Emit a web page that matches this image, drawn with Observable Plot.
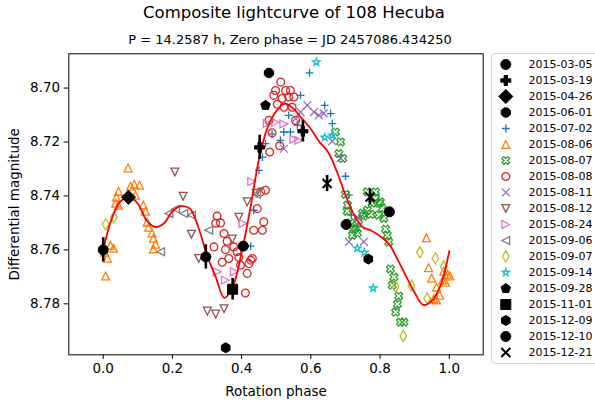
<!DOCTYPE html>
<html>
<head>
<meta charset="utf-8">
<script src="https://cdn.jsdelivr.net/npm/d3@7"></script>
<script src="https://cdn.jsdelivr.net/npm/@observablehq/plot@0.6"></script>
<style>
  body { margin: 0; background: #fff; }
  #wrap { position: relative; width: 595px; height: 407px; overflow: hidden; font-family: "DejaVu Sans", sans-serif; color: #000; }
  #title { position: absolute; left: 0; width: 588px; top: 3px; text-align: center; font-size: 16.5px; white-space: nowrap; }
  #subtitle { position: absolute; left: 68px; width: 444px; top: 31.5px; text-align: center; font-size: 13px; white-space: nowrap; }
  #main { position: absolute; left: 0; top: 0; }
  #legbox { position: absolute; left: 491px; top: 53px; width: 120px; height: 311px; box-sizing: border-box; border: 1px solid #d4d4d4; border-radius: 4px; background: #fff; }
  #legend { position: absolute; left: 491px; top: 53px; }
</style>
</head>
<body>
<div id="wrap">
  <div id="title">Composite lightcurve of 108 Hecuba</div>
  <div id="subtitle">P = 14.2587 h, Zero phase = JD 2457086.434250</div>
  <div id="main"></div>
  <div id="legbox"></div>
  <div id="legend"></div>
</div>
<script>
// ---------- data: [phase, magnitude, (error)] ----------
const xTicks = [0.0, 0.2, 0.4, 0.6, 0.8, 1.0];
const yTicks = [8.70, 8.72, 8.74, 8.76, 8.78];

const s0305 = [[0.000, 8.7600, 0.0045]];
const s0319 = [[0.452, 8.7220, 0.0045], [0.577, 8.7160, 0.0040]];
const s0426 = [[0.073, 8.7405, 0]];
const s0601 = [[0.479, 8.6944, 0]];
const s0702 = [[0.596,8.6944],[0.570,8.7027],[0.536,8.7101],[0.561,8.7138],[0.640,8.7064],[0.657,8.7095],[0.662,8.7132],[0.522,8.7163],[0.541,8.7163],[0.488,8.7171],[0.512,8.7194],[0.469,8.7206],[0.460,8.7256],[0.450,8.7305],[0.435,8.7453],[0.426,8.7586],[0.700,8.7327],[0.710,8.7397],[0.717,8.7471],[0.734,8.7515]];
const s0806 = [[0.072,8.7296],[0.044,8.7383],[0.038,8.7405],[0.036,8.7427],[0.044,8.7434],[0.079,8.7364],[0.090,8.7357],[0.105,8.7360],[0.093,8.7397],[0.116,8.7434],[0.122,8.7457],[0.127,8.7497],[0.131,8.7516],[0.141,8.7538],[0.145,8.7557],[0.151,8.7579],[0.145,8.7597],[0.021,8.7583],[0.030,8.7594],[0.004,8.7609],[0.012,8.7631],[0.007,8.7697],
  [0.934,8.7555],[0.940,8.7666],[0.949,8.7705],[0.984,8.7679],[0.995,8.7690],[1.002,8.7697],[0.981,8.7712],[0.989,8.7720],[0.963,8.7738],[0.972,8.7768],[0.955,8.7781],[0.963,8.7786]];
const s0807 = [[0.671,8.7163],[0.686,8.7200],[0.681,8.7243],[0.692,8.7261],[0.700,8.7394],[0.706,8.7434],[0.705,8.7457],[0.715,8.7501],[0.729,8.7520],[0.738,8.7490],[0.749,8.7464],[0.763,8.7453],[0.777,8.7427],[0.787,8.7409],[0.763,8.7385],[0.787,8.7385],[0.797,8.7427],[0.806,8.7446],[0.811,8.7483],[0.816,8.7523],[0.821,8.7546],[0.825,8.7571],[0.830,8.7671],[0.840,8.7701],[0.835,8.7731],[0.854,8.7771],[0.850,8.7801],[0.845,8.7831],[0.859,8.7868],[0.869,8.7868],[0.723,8.7523],[0.720,8.7546],[0.734,8.7538],[0.801,8.7422],[0.796,8.7471],[0.752,8.7475],[0.773,8.7468]];
const s0808 = [[0.513,8.6978],[0.498,8.7009],[0.527,8.7009],[0.541,8.7009],[0.493,8.7027],[0.517,8.7039],[0.536,8.7033],[0.551,8.7033],[0.503,8.7060],[0.522,8.7071],[0.546,8.7071],[0.479,8.7120],[0.556,8.7120],[0.488,8.7166],[0.510,8.7214],[0.481,8.7237],
  [0.469,8.7379],[0.455,8.7385],[0.445,8.7447],[0.464,8.7496],[0.435,8.7527],[0.460,8.7527],
  [0.329,8.7475],[0.325,8.7501],[0.339,8.7500],[0.349,8.7539],[0.320,8.7589],[0.358,8.7568],[0.353,8.7599],[0.377,8.7589],[0.363,8.7632],[0.344,8.7646],[0.387,8.7607],[0.392,8.7628],[0.426,8.7638],[0.431,8.7632],[0.421,8.7651],[0.416,8.7687],[0.411,8.7760],[0.397,8.7657]];
const s0811 = [[0.590,8.7064],[0.570,8.7089],[0.609,8.7089],[0.623,8.7101],[0.637,8.7094],[0.556,8.7113],[0.522,8.7225],[0.662,8.7197],[0.686,8.7260],[0.734,8.7479],[0.710,8.7570],[0.753,8.7570]];
const s0812 = [[0.207,8.7311],[0.231,8.7401],[0.255,8.7542],[0.276,8.7632],[0.301,8.7827],[0.325,8.7838],[0.349,8.7818],[0.392,8.7479],[0.373,8.7560],[0.416,8.7422],[0.442,8.7390]];
const s0824 = [[0.474,8.7131],[0.498,8.7127],[0.522,8.7133],[0.551,8.7190],[0.565,8.7194],[0.429,8.7347],[0.404,8.7502],[0.329,8.7681],[0.353,8.7712],[0.379,8.7681]];
const s0906 = [[0.190,8.7465],[0.209,8.7449],[0.233,8.7465],[0.255,8.7471],[0.166,8.7607],[0.305,8.7527],[0.443,8.7394]];
const s0907 = [[0.007,8.7505],[0.031,8.7479],[0.915,8.7609],[0.960,8.7631],[0.984,8.7662],[0.845,8.7737],[0.891,8.7733],[0.936,8.7780],[0.867,8.7919]];
const s0914 = [[0.616,8.6904],[0.640,8.7183],[0.662,8.7175],[0.734,8.7594],[0.755,8.7610],[0.780,8.7742]];
const s0928 = [[0.469, 8.7064, 0]];
const s1101 = [[0.374, 8.7746, 0.0040]];
const s1209 = [[0.354, 8.7963, 0], [0.766, 8.7634, 0]];
const s1210 = [[0.2965, 8.7626, 0.0045], [0.405, 8.7586, 0], [0.702, 8.7506, 0], [0.827, 8.7459, 0]];
const s1221 = [[0.647, 8.7354, 0.0030], [0.771, 8.7404, 0.0030]];

// Fourier fit curve
const fitPhase = [0.000,0.025,0.050,0.075,0.100,0.125,0.150,0.175,0.200,0.225,0.250,0.275,0.300,0.325,0.350,0.375,0.400,0.425,0.450,0.475,0.500,0.525,0.550,0.575,0.600,0.625,0.650,0.675,0.700,0.725,0.750,0.775,0.800,0.825,0.850,0.875,0.900,0.925,0.950,0.975,1.000];
const fitMag = [8.7600,8.7483,8.7420,8.7405,8.7428,8.7490,8.7515,8.7502,8.7457,8.7438,8.7446,8.7516,8.7620,8.7700,8.7778,8.7734,8.7610,8.7447,8.7265,8.7146,8.7086,8.7058,8.7077,8.7114,8.7152,8.7200,8.7238,8.7309,8.7397,8.7470,8.7516,8.7529,8.7549,8.7577,8.7634,8.7697,8.7759,8.7804,8.7788,8.7731,8.7605];

// ---------- marker shapes (matplotlib-like) ----------
const mk = (fn) => ({draw(ctx, size) { fn(ctx, Math.sqrt(size / Math.PI)); }});
const polyPath = (pts) => (ctx, h) => { pts.forEach(([x, y], i) => i ? ctx.lineTo(x * h, y * h) : ctx.moveTo(x * h, y * h)); ctx.closePath(); };
const regular = (n, rot, inner) => {
  const pts = [];
  const m = inner ? 2 * n : n;
  for (let k = 0; k < m; k++) {
    const a = -Math.PI / 2 + rot + k * 2 * Math.PI / m;
    const rr = inner && k % 2 ? inner : 1;
    pts.push([rr * Math.cos(a), rr * Math.sin(a)]);
  }
  return pts;
};
const R2 = Math.SQRT2;
const SYM = {
  o: mk((c, h) => { c.moveTo(h, 0); c.arc(0, 0, h, 0, 2 * Math.PI); }),
  "^": mk(polyPath([[0, -1], [-1, 1], [1, 1]])),
  v: mk(polyPath([[0, 1], [-1, -1], [1, -1]])),
  ">": mk(polyPath([[1, 0], [-1, -1], [-1, 1]])),
  "<": mk(polyPath([[-1, 0], [1, -1], [1, 1]])),
  s: mk(polyPath([[-1, -1], [1, -1], [1, 1], [-1, 1]])),
  D: mk(polyPath([[0, -R2], [R2, 0], [0, R2], [-R2, 0]])),
  d: mk(polyPath([[0, -R2], [0.6 * R2, 0], [0, R2], [-0.6 * R2, 0]])),
  p: mk(polyPath(regular(5, 0))),
  h: mk(polyPath(regular(6, 0))),
  "8": mk(polyPath(regular(8, Math.PI / 8))),
  "*": mk(polyPath(regular(5, 0, 0.381966))),
  P: mk(polyPath([[-1/3,-1],[1/3,-1],[1/3,-1/3],[1,-1/3],[1,1/3],[1/3,1/3],[1/3,1],[-1/3,1],[-1/3,1/3],[-1,1/3],[-1,-1/3],[-1/3,-1/3]])),
  X: mk(polyPath([[-0.5,-1],[0,-0.5],[0.5,-1],[1,-0.5],[0.5,0],[1,0.5],[0.5,1],[0,0.5],[-0.5,1],[-1,0.5],[-0.5,0],[-1,-0.5]])),
  "+": mk((c, h) => { c.moveTo(-h, 0); c.lineTo(h, 0); c.moveTo(0, -h); c.lineTo(0, h); }),
  x: mk((c, h) => { c.moveTo(-h, -h); c.lineTo(h, h); c.moveTo(-h, h); c.lineTo(h, -h); })
};

// ---------- series styling ----------
const series = [
  {label: "2015-03-05", data: s0305, sym: "o", color: "#000000", fill: true, r: 5, sw: 1, black: true},
  {label: "2015-03-19", data: s0319, sym: "P", color: "#000000", fill: true, r: 5, sw: 1, black: true},
  {label: "2015-04-26", data: s0426, sym: "D", color: "#000000", fill: true, r: 5, sw: 1, black: true},
  {label: "2015-06-01", data: s0601, sym: "8", color: "#000000", fill: true, r: 5, sw: 1, black: true},
  {label: "2015-07-02", data: s0702, sym: "+", color: "#1f77b4", fill: false, r: 3.9, sw: 1.3},
  {label: "2015-08-06", data: s0806, sym: "^", color: "#ff7f0e", fill: false, r: 3.9, sw: 1.3},
  {label: "2015-08-07", data: s0807, sym: "X", color: "#2ca02c", fill: false, r: 3.9, sw: 1.3},
  {label: "2015-08-08", data: s0808, sym: "o", color: "#d62728", fill: false, r: 3.9, sw: 1.3},
  {label: "2015-08-11", data: s0811, sym: "x", color: "#9467bd", fill: false, r: 3.9, sw: 1.3},
  {label: "2015-08-12", data: s0812, sym: "v", color: "#8c564b", fill: false, r: 3.9, sw: 1.3},
  {label: "2015-08-24", data: s0824, sym: ">", color: "#e377c2", fill: false, r: 3.9, sw: 1.3},
  {label: "2015-09-06", data: s0906, sym: "<", color: "#7f7f7f", fill: false, r: 3.9, sw: 1.3},
  {label: "2015-09-07", data: s0907, sym: "d", color: "#bcbd22", fill: false, r: 3.9, sw: 1.3},
  {label: "2015-09-14", data: s0914, sym: "*", color: "#17becf", fill: false, r: 3.9, sw: 1.3},
  {label: "2015-09-28", data: s0928, sym: "p", color: "#000000", fill: true, r: 5, sw: 1, black: true},
  {label: "2015-11-01", data: s1101, sym: "s", color: "#000000", fill: true, r: 5, sw: 1, black: true},
  {label: "2015-12-09", data: s1209, sym: "h", color: "#000000", fill: true, r: 5, sw: 1, black: true},
  {label: "2015-12-10", data: s1210, sym: "o", color: "#000000", fill: true, r: 5, sw: 1, black: true},
  {label: "2015-12-21", data: s1221, sym: "x", color: "#000000", fill: false, r: 4.5, sw: 2, black: true}
];

const toRows = (arr) => arr.map(([phase, mag, err]) => ({phase, mag, err: err || 0}));
const fit = fitPhase.map((p, i) => ({phase: p, mag: fitMag[i]}));

const dotMark = (s, data, x, y) => Plot.dot(data, {
  x, y, symbol: SYM[s.sym], r: s.r,
  fill: s.fill ? s.color : "none", stroke: s.color, strokeWidth: s.sw
});

const colored = series.filter(s => !s.black).map(s => dotMark(s, toRows(s.data), "phase", "mag"));
const blacks = series.filter(s => s.black);
const errRows = blacks.flatMap(s => toRows(s.data)).filter(d => d.err > 0);

const main = Plot.plot({
  width: 595, height: 407,
  marginLeft: 68.3, marginRight: 112.3, marginTop: 53.3, marginBottom: 52.7,
  x: {domain: [-0.0994, 1.098]},
  y: {domain: [8.6873, 8.7989], reverse: true},
  style: {fontFamily: "DejaVu Sans, sans-serif", fontSize: "13.5px", color: "#000", background: "transparent"},
  marks: [
    ...colored,
    Plot.line(fit, {x: "phase", y: "mag", stroke: "#ff0000", strokeWidth: 1.8, curve: "catmull-rom"}),
    Plot.ruleX(errRows, {x: "phase", y1: d => d.mag - d.err, y2: d => d.mag + d.err, stroke: "#000", strokeWidth: 2.6}),
    ...blacks.map(s => dotMark(s, toRows(s.data), "phase", "mag")),
    Plot.frame({stroke: "#000", strokeWidth: 1}),
    Plot.axisX({ticks: xTicks, tickFormat: d3.format(".1f"), tickSize: 4.7, tickPadding: 4, fontSize: 13.5,
      label: "Rotation phase", labelAnchor: "center", labelOffset: 41, labelArrow: "none"}),
    Plot.axisY({ticks: yTicks, tickFormat: d3.format(".2f"), tickSize: 4.7, tickPadding: 4, fontSize: 13.5,
      label: "Differential magnitude", labelAnchor: "center", labelOffset: 59, labelArrow: "none"})
  ]
});
document.getElementById("main").appendChild(main);

// ---------- legend ----------
const labels = series.map(s => s.label);
const legend = Plot.plot({
  width: 104, height: 311,
  marginLeft: 14.3, marginRight: 0, marginTop: 8.7, marginBottom: 8.9,
  x: {domain: [0, 1], axis: null},
  y: {domain: labels, type: "point", padding: 0, axis: null},
  style: {fontFamily: "DejaVu Sans, sans-serif", fontSize: "11px", color: "#000", background: "transparent"},
  marks: [
    ...series.map(s => dotMark(s, [{k: 0, label: s.label}], "k", "label")),
    Plot.text(labels, {x: () => 0, y: d => d, text: d => d, dx: 22.7, textAnchor: "start", fontSize: 11, fill: "#000"})
  ]
});
document.getElementById("legend").appendChild(legend);
</script>
</body>
</html>
